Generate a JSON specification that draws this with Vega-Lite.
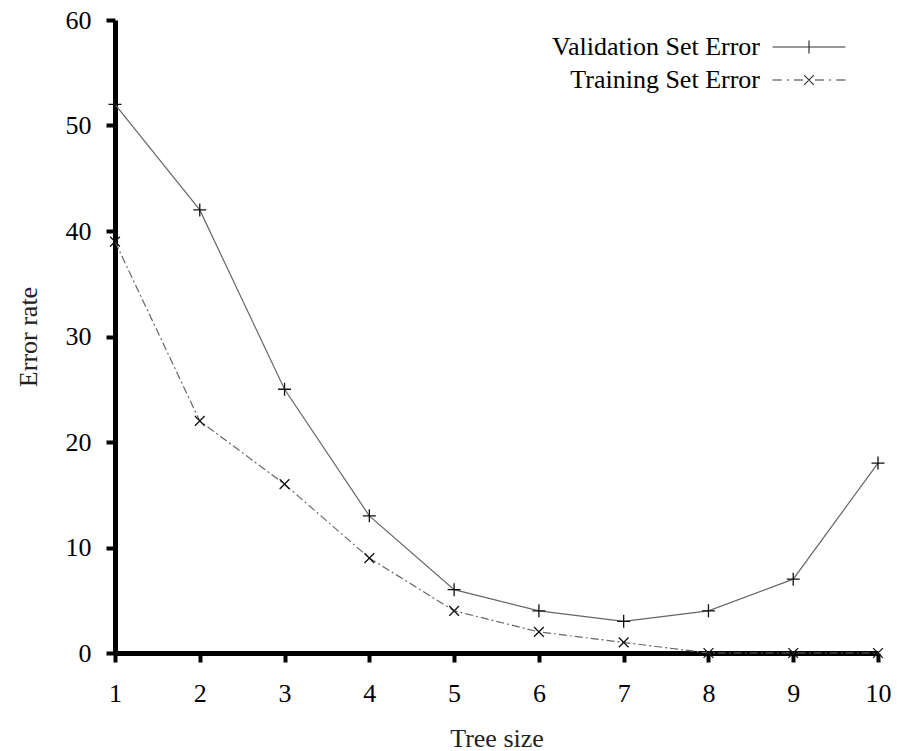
{
  "$schema": "https://vega.github.io/schema/vega-lite/v6.json",
  "width": 763,
  "height": 633,
  "autosize": "none",
  "padding": {"left": 115, "top": 20, "right": 19, "bottom": 98},
  "background": "white",
  "config": {
    "view": {"stroke": null},
    "font": "Liberation Serif",
    "axis": {
      "grid": false,
      "domainColor": "black",
      "domainWidth": 5,
      "tickColor": "black",
      "tickWidth": 4,
      "tickSize": 9,
      "labelFlush": false,
      "labelFont": "Liberation Serif",
      "labelFontSize": 26,
      "labelColor": "black",
      "labelPadding": 15,
      "titleFont": "Liberation Serif",
      "titleFontSize": 26,
      "titleFontWeight": "normal",
      "titleColor": "#222"
    }
  },
  "data": {
    "values": [
      {"size": 1, "error": 52, "series": "Validation Set Error"},
      {"size": 2, "error": 42, "series": "Validation Set Error"},
      {"size": 3, "error": 25, "series": "Validation Set Error"},
      {"size": 4, "error": 13, "series": "Validation Set Error"},
      {"size": 5, "error": 6, "series": "Validation Set Error"},
      {"size": 6, "error": 4, "series": "Validation Set Error"},
      {"size": 7, "error": 3, "series": "Validation Set Error"},
      {"size": 8, "error": 4, "series": "Validation Set Error"},
      {"size": 9, "error": 7, "series": "Validation Set Error"},
      {"size": 10, "error": 18, "series": "Validation Set Error"},
      {"size": 1, "error": 39, "series": "Training Set Error"},
      {"size": 2, "error": 22, "series": "Training Set Error"},
      {"size": 3, "error": 16, "series": "Training Set Error"},
      {"size": 4, "error": 9, "series": "Training Set Error"},
      {"size": 5, "error": 4, "series": "Training Set Error"},
      {"size": 6, "error": 2, "series": "Training Set Error"},
      {"size": 7, "error": 1, "series": "Training Set Error"},
      {"size": 8, "error": 0, "series": "Training Set Error"},
      {"size": 9, "error": 0, "series": "Training Set Error"},
      {"size": 10, "error": 0, "series": "Training Set Error"}
    ]
  },
  "encoding": {
    "x": {
      "field": "size",
      "type": "quantitative",
      "scale": {"domain": [1, 10], "nice": false, "zero": false},
      "axis": {"values": [1, 2, 3, 4, 5, 6, 7, 8, 9, 10], "title": "Tree size", "labelPadding": 18, "titlePadding": 19}
    },
    "y": {
      "field": "error",
      "type": "quantitative",
      "scale": {"domain": [0, 60], "nice": false},
      "axis": {"values": [0, 10, 20, 30, 40, 50, 60], "title": "Error rate", "titlePadding": 24}
    }
  },
  "layer": [
    {
      "transform": [{"filter": "datum.series === 'Validation Set Error'"}],
      "mark": {"type": "line", "color": "#666", "strokeWidth": 1.2}
    },
    {
      "transform": [{"filter": "datum.series === 'Training Set Error'"}],
      "mark": {"type": "line", "color": "#666", "strokeWidth": 1.2, "strokeDash": [8, 3, 2, 3]}
    },
    {
      "mark": {"type": "point", "filled": false, "color": "#111", "strokeWidth": 1.3, "size": 169, "opacity": 1},
      "encoding": {
        "shape": {
          "field": "series",
          "type": "nominal",
          "scale": {
            "domain": ["Validation Set Error", "Training Set Error"],
            "range": ["M-1,0L1,0M0,-1L0,1", "M-0.75,-0.75L0.75,0.75M-0.75,0.75L0.75,-0.75"]
          },
          "legend": null
        }
      }
    },
    {
      "transform": [{"filter": "false"}],
      "mark": {"type": "point", "filled": false, "color": "#333", "strokeWidth": 1.2, "size": 169, "opacity": 1},
      "encoding": {
        "shape": {
          "field": "series",
          "type": "nominal",
          "scale": {
            "domain": ["Validation Set Error", "Training Set Error"],
            "range": [
              "M-5.6,0L5.6,0M0,-1L0,1",
              "M-5.6,0L-4.2,0M-3.4,0L-3.1,0M-2.3,0L-0.9,0M-0.75,-0.75L0.75,0.75M-0.75,0.75L0.75,-0.75M0.9,0L2.3,0M3.1,0L3.4,0M4.2,0L5.6,0"
            ]
          },
          "legend": {
            "title": null,
            "orient": "none",
            "legendX": 681,
            "legendY": 14,
            "padding": 0,
            "labelFont": "Liberation Serif",
            "labelFontSize": 26,
            "labelColor": "black",
            "labelAlign": "right",
            "labelOffset": -62,
            "labelLimit": 500,
            "rowPadding": 7,
            "symbolSize": 169,
            "symbolStrokeColor": "#333",
            "symbolStrokeWidth": 1.2,
            "symbolFillColor": "transparent"
          }
        }
      }
    }
  ],
  "resolve": {"scale": {"shape": "independent"}}
}
